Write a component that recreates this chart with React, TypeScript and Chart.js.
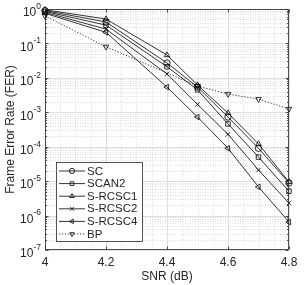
import React, { useEffect, useRef } from 'react';
import { Chart, registerables } from 'chart.js';
Chart.register(...registerables);

const snr = [4, 4.2, 4.4, 4.5, 4.6, 4.7, 4.8];
const bpSnr = [4, 4.2, 4.5, 4.6, 4.7, 4.8];
const scFer = [0.9, 0.42, 0.027, 0.0054, 0.00073, 9e-5, 8.9e-6];
const scan2Fer = [0.85, 0.34, 0.021, 0.0045, 0.00046, 5e-5, 5.1e-6];
const srcsc1Fer = [0.95, 0.51, 0.046, 0.0062, 0.00095, 1.2e-4, 9.5e-6];
const srcsc2Fer = [0.8, 0.26, 0.013, 0.0017, 0.00023, 2.1e-5, 2.3e-6];
const srcsc4Fer = [0.75, 0.21, 0.0054, 0.00073, 9e-5, 6.8e-6, 6.5e-7];
const bpFer = [0.63, 0.08, 0.0058, 0.0034, 0.0024, 0.00125];
const seriesNames = ['SC', 'SCAN2', 'S-RCSC1', 'S-RCSC2', 'S-RCSC4', 'BP'];
const xTicks = [4, 4.2, 4.4, 4.6, 4.8];
const xTickLabels = ['4', '4.2', '4.4', '4.6', '4.8'];
const yExps = [0, -1, -2, -3, -4, -5, -6, -7];
const xTitle = 'SNR (dB)';
const yTitle = 'Frame Error Rate (FER)';

type Mk = 'circle' | 'rect' | 'tri' | 'x' | 'left' | 'down';
const markers: Mk[] = ['circle', 'rect', 'tri', 'x', 'left', 'down'];
const chartPointStyle: Record<Mk, [string, number]> = {
  circle: ['circle', 0],
  rect: ['rect', 0],
  tri: ['triangle', 0],
  x: ['crossRot', 0],
  left: ['triangle', -90],
  down: ['triangle', 180],
};

const FONT = '"Liberation Sans", Arial, Helvetica, sans-serif';
const AX = '#262626';

function drawMarker(ctx: CanvasRenderingContext2D, m: Mk, x: number, y: number, r: number) {
  ctx.beginPath();
  if (m === 'circle') {
    ctx.arc(x, y, r, 0, Math.PI * 2);
  } else if (m === 'rect') {
    const s = r * 0.72;
    ctx.rect(x - s, y - s, 2 * s, 2 * s);
  } else if (m === 'x') {
    const s = r * 0.75;
    ctx.moveTo(x - s, y - s); ctx.lineTo(x + s, y + s);
    ctx.moveTo(x + s, y - s); ctx.lineTo(x - s, y + s);
  } else {
    const rot = m === 'tri' ? 0 : m === 'left' ? -Math.PI / 2 : Math.PI;
    for (let i = 0; i < 3; i++) {
      const a = rot - Math.PI / 2 + (i * 2 * Math.PI) / 3;
      const px = x + r * Math.cos(a), py = y + r * Math.sin(a);
      if (i === 0) ctx.moveTo(px, py); else ctx.lineTo(px, py);
    }
    ctx.closePath();
  }
  ctx.stroke();
}

const decorPlugin = {
  id: 'decor',
  beforeDatasetsDraw(chart: any) {
    const { ctx, chartArea: a } = chart;
    const xs = chart.scales.x, ys = chart.scales.y;
    ctx.save();
    // minor grid
    ctx.strokeStyle = '#d0d0d0';
    ctx.lineWidth = 0.7;
    ctx.setLineDash([1, 1.5]);
    for (let e = -7; e < 0; e++) {
      for (let k = 2; k <= 9; k++) {
        const y = Math.round(ys.getPixelForValue(k * Math.pow(10, e))) + 0.5;
        ctx.beginPath(); ctx.moveTo(a.left, y); ctx.lineTo(a.right, y); ctx.stroke();
      }
    }
    for (let i = 1; i < 16; i++) {
      if (i % 4 === 0) continue;
      const x = Math.round(xs.getPixelForValue(4 + i * 0.05)) + 0.5;
      ctx.beginPath(); ctx.moveTo(x, a.top); ctx.lineTo(x, a.bottom); ctx.stroke();
    }
    // major grid
    ctx.setLineDash([]);
    ctx.strokeStyle = '#dedede';
    ctx.lineWidth = 1;
    yExps.forEach((e) => {
      const y = Math.round(ys.getPixelForValue(Math.pow(10, e))) + 0.5;
      ctx.beginPath(); ctx.moveTo(a.left, y); ctx.lineTo(a.right, y); ctx.stroke();
    });
    xTicks.forEach((v) => {
      const x = Math.round(xs.getPixelForValue(v)) + 0.5;
      ctx.beginPath(); ctx.moveTo(x, a.top); ctx.lineTo(x, a.bottom); ctx.stroke();
    });
    ctx.restore();
  },
  afterDraw(chart: any) {
    const { ctx, chartArea: a } = chart;
    const xs = chart.scales.x, ys = chart.scales.y;
    ctx.save();
    ctx.strokeStyle = AX;
    ctx.lineWidth = 0.8;
    const L = Math.round(a.left) + 0.5, R = Math.round(a.right) - 0.5;
    const T = Math.round(a.top) + 0.5, B = Math.round(a.bottom) - 0.5;
    ctx.strokeRect(L, T, R - L, B - T);
    // ticks
    ctx.beginPath();
    yExps.forEach((e) => {
      const y = Math.round(ys.getPixelForValue(Math.pow(10, e))) + 0.5;
      ctx.moveTo(L, y); ctx.lineTo(L + 3, y);
      ctx.moveTo(R, y); ctx.lineTo(R - 3, y);
    });
    for (let e = -7; e < 0; e++) {
      for (let k = 2; k <= 9; k++) {
        const y = Math.round(ys.getPixelForValue(k * Math.pow(10, e))) + 0.5;
        ctx.moveTo(L, y); ctx.lineTo(L + 1.5, y);
        ctx.moveTo(R, y); ctx.lineTo(R - 1.5, y);
      }
    }
    xTicks.forEach((v) => {
      const x = Math.round(xs.getPixelForValue(v)) + 0.5;
      ctx.moveTo(x, B); ctx.lineTo(x, B - 3);
      ctx.moveTo(x, T); ctx.lineTo(x, T + 3);
    });
    ctx.stroke();
    // tick labels
    ctx.fillStyle = AX;
    ctx.textBaseline = 'middle';
    ctx.textAlign = 'center';
    ctx.font = `12px ${FONT}`;
    xTicks.forEach((v, i) => {
      ctx.fillText(xTickLabels[i], xs.getPixelForValue(v), a.bottom + 13);
    });
    yExps.forEach((e) => {
      const y = ys.getPixelForValue(Math.pow(10, e));
      const expStr = e < 0 ? '-' + Math.abs(e) : String(e);
      ctx.font = `12px ${FONT}`;
      const wb = ctx.measureText('10').width;
      ctx.font = `8.5px ${FONT}`;
      const we = ctx.measureText(expStr).width;
      const right = a.left - 4;
      ctx.textAlign = 'left';
      ctx.font = `12px ${FONT}`;
      ctx.fillText('10', right - we - wb, y + 4);
      ctx.font = `8.5px ${FONT}`;
      ctx.fillText(expStr, right - we, y - 2.5);
    });
    // axis titles
    ctx.font = `12px ${FONT}`;
    ctx.textAlign = 'center';
    ctx.fillText(xTitle, (a.left + a.right) / 2, a.bottom + 27);
    ctx.save();
    ctx.translate(11, (a.top + a.bottom) / 2);
    ctx.rotate(-Math.PI / 2);
    ctx.fillText(yTitle, 0, 0);
    ctx.restore();
    // legend
    const bx = 56.5, by = 162.5, bw = 86, bh = 79;
    ctx.fillStyle = '#ffffff';
    ctx.fillRect(bx, by, bw, bh);
    ctx.strokeStyle = AX;
    ctx.lineWidth = 0.8;
    ctx.strokeRect(bx, by, bw, bh);
    seriesNames.forEach((name, i) => {
      const y = 171 + i * 12.6;
      ctx.strokeStyle = '#000';
      ctx.lineWidth = 0.8;
      ctx.setLineDash(i === 5 ? [1.2, 1.8] : []);
      ctx.beginPath(); ctx.moveTo(59, y); ctx.lineTo(85, y); ctx.stroke();
      ctx.setLineDash([]);
      drawMarker(ctx, markers[i], 72, y, 2.6);
      ctx.fillStyle = AX;
      ctx.textAlign = 'left';
      ctx.font = `11.5px ${FONT}`;
      ctx.fillText(name, 87, y + 0.5);
    });
    ctx.restore();
  },
};

export default function App() {
  const ref = useRef<HTMLCanvasElement | null>(null);
  useEffect(() => {
    if (!ref.current) return;
    const allY = [scFer, scan2Fer, srcsc1Fer, srcsc2Fer, srcsc4Fer];
    const datasets: any[] = allY.map((arr, i) => {
      const [ps, rot] = chartPointStyle[markers[i]];
      return {
        label: seriesNames[i],
        data: snr.map((x, j) => ({ x, y: arr[j] })),
        borderColor: '#000',
        borderWidth: 0.8,
        pointStyle: ps,
        pointRotation: rot,
        pointRadius: 3.2,
        pointBorderWidth: 0.8,
        pointBorderColor: '#000',
        pointBackgroundColor: 'rgba(0,0,0,0)',
        fill: false,
        tension: 0,
        clip: false,
      };
    });
    datasets.push({
      label: seriesNames[5],
      data: bpSnr.map((x, j) => ({ x, y: bpFer[j] })),
      borderColor: '#000',
      borderWidth: 0.8,
      borderDash: [1.2, 1.8],
      pointStyle: 'triangle',
      pointRotation: 180,
      pointRadius: 3.2,
      pointBorderWidth: 0.8,
      pointBorderColor: '#000',
      pointBackgroundColor: 'rgba(0,0,0,0)',
      fill: false,
      tension: 0,
      clip: false,
    });
    const chart = new Chart(ref.current, {
      type: 'line',
      data: { datasets },
      options: {
        responsive: false,
        animation: false,
        devicePixelRatio: 1,
        layout: { padding: { top: 9, right: 15, left: 0, bottom: 0 } },
        plugins: { legend: { display: false }, tooltip: { enabled: false } },
        scales: {
          x: {
            type: 'linear', min: 4, max: 4.8,
            ticks: { display: false }, grid: { display: false }, border: { display: false },
            afterFit: (s: any) => { s.height = 35; },
          },
          y: {
            type: 'logarithmic', min: 1e-7, max: 1,
            ticks: { display: false }, grid: { display: false }, border: { display: false },
            afterFit: (s: any) => { s.width = 45; },
          },
        },
      } as any,
      plugins: [decorPlugin],
    });
    return () => chart.destroy();
  }, []);
  return (
    <div style={{ position: 'fixed', left: 0, top: 0, width: 304, height: 285, background: '#fff' }}>
      <canvas ref={ref} width={304} height={285} style={{ display: 'block' }} />
    </div>
  );
}
